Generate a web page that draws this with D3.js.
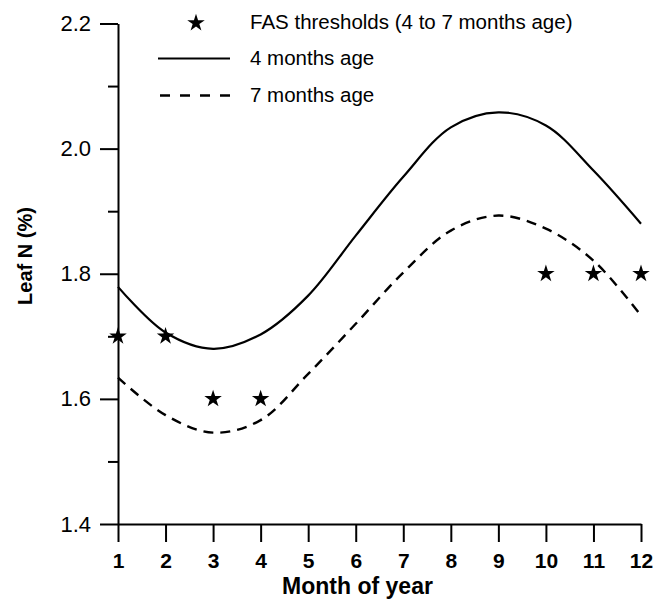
<!DOCTYPE html>
<html>
<head>
<meta charset="utf-8">
<script src="https://cdn.jsdelivr.net/npm/d3@7"></script>
<style>
  html, body { margin: 0; padding: 0; background: #fff; }
  svg { display: block; font-family: "Liberation Sans", Arial, Helvetica, sans-serif; }
</style>
</head>
<body>
<svg id="chart" width="668" height="599"></svg>
<script>
// ---- data ----
const months = [1, 2, 3, 4, 5, 6, 7, 8, 9, 10, 11, 12];
const age4 = [1.779, 1.706, 1.680, 1.703, 1.765, 1.861, 1.955, 2.034, 2.058, 2.037, 1.965, 1.880];
const age7 = [1.634, 1.574, 1.546, 1.566, 1.640, 1.720, 1.802, 1.869, 1.893, 1.872, 1.821, 1.733];
const fasMonths = [1, 2, 3, 4, 10, 11, 12];
const fasValues = [1.7, 1.7, 1.6, 1.6, 1.8, 1.8, 1.8];
const yMajorTicks = [1.4, 1.6, 1.8, 2.0, 2.2];
const yMinorTicks = [1.5, 1.7, 1.9, 2.1];
const legendLabels = ["FAS thresholds (4 to 7 months age)", "4 months age", "7 months age"];
const xTitle = "Month of year";
const yTitle = "Leaf N (%)";

// ---- layout ----
const svg = d3.select("#chart");
const x = d3.scaleLinear().domain([1, 12]).range([118, 641]);
const y = d3.scaleLinear().domain([1.4, 2.2]).range([524, 23.5]);

// minor y ticks
svg.append("g")
  .attr("transform", "translate(118,0)")
  .call(d3.axisLeft(y).tickValues(yMinorTicks).tickSize(10).tickFormat(""))
  .call(g => g.select(".domain").remove())
  .call(g => g.selectAll("line").attr("stroke", "#000").attr("stroke-width", 2));

// major y axis
svg.append("g")
  .attr("transform", "translate(118,0)")
  .call(d3.axisLeft(y).tickValues(yMajorTicks).tickSize(18).tickSizeOuter(0).tickPadding(9)
        .tickFormat(d3.format(".1f")))
  .call(g => g.select(".domain").attr("stroke", "#000").attr("stroke-width", 2))
  .call(g => g.selectAll("line").attr("stroke", "#000").attr("stroke-width", 2))
  .call(g => g.selectAll("text").attr("fill", "#000").attr("font-size", 22)
        .attr("font-family", "Liberation Sans, Arial, sans-serif"));

// x axis
svg.append("g")
  .attr("transform", "translate(0,524)")
  .call(d3.axisBottom(x).tickValues(months).tickSize(18).tickSizeOuter(0).tickPadding(11)
        .tickFormat(d3.format("d")))
  .call(g => g.select(".domain").attr("stroke", "#000").attr("stroke-width", 2.2))
  .call(g => g.selectAll("line").attr("stroke", "#000").attr("stroke-width", 2))
  .call(g => g.selectAll("text").attr("fill", "#000").attr("font-size", 21).attr("font-weight", "bold")
        .attr("font-family", "Liberation Sans, Arial, sans-serif"));

// lines
const line = d3.line().x((d, i) => x(months[i])).y(d => y(d)).curve(d3.curveCatmullRom.alpha(0.5));
svg.append("path").datum(age4).attr("d", line)
  .attr("fill", "none").attr("stroke", "#000").attr("stroke-width", 2.2);
svg.append("path").datum(age7).attr("d", line)
  .attr("fill", "none").attr("stroke", "#000").attr("stroke-width", 2.4)
  .attr("stroke-dasharray", "10,7");

// stars
const star = d3.symbol().type(d3.symbolStar).size(95);
svg.append("g").selectAll("path").data(fasMonths).join("path")
  .attr("d", star)
  .attr("transform", (d, i) => `translate(${x(d)},${y(fasValues[i])})`)
  .attr("fill", "#000");

// legend
const lg = svg.append("g");
lg.append("path").attr("d", star).attr("transform", "translate(196,23)").attr("fill", "#000");
lg.append("line").attr("x1", 158).attr("x2", 230).attr("y1", 58.5).attr("y2", 58.5)
  .attr("stroke", "#000").attr("stroke-width", 2.2);
lg.append("line").attr("x1", 160).attr("x2", 230).attr("y1", 95.5).attr("y2", 95.5)
  .attr("stroke", "#000").attr("stroke-width", 2.4).attr("stroke-dasharray", "10,10");
const legendY = [28.5, 65, 102];
lg.selectAll("text").data(legendLabels).join("text")
  .attr("x", 250).attr("y", (d, i) => legendY[i])
  .attr("font-size", 20.5).attr("fill", "#000")
  .text(d => d);

// axis titles
svg.append("text").attr("x", 357.5).attr("y", 594)
  .attr("text-anchor", "middle").attr("font-size", 23).attr("font-weight", "bold")
  .attr("fill", "#000").text(xTitle);
svg.append("text")
  .attr("transform", "translate(32,256) rotate(-90)")
  .attr("text-anchor", "middle").attr("font-size", 20).attr("font-weight", "bold")
  .attr("fill", "#000").text(yTitle);
</script>
</body>
</html>
